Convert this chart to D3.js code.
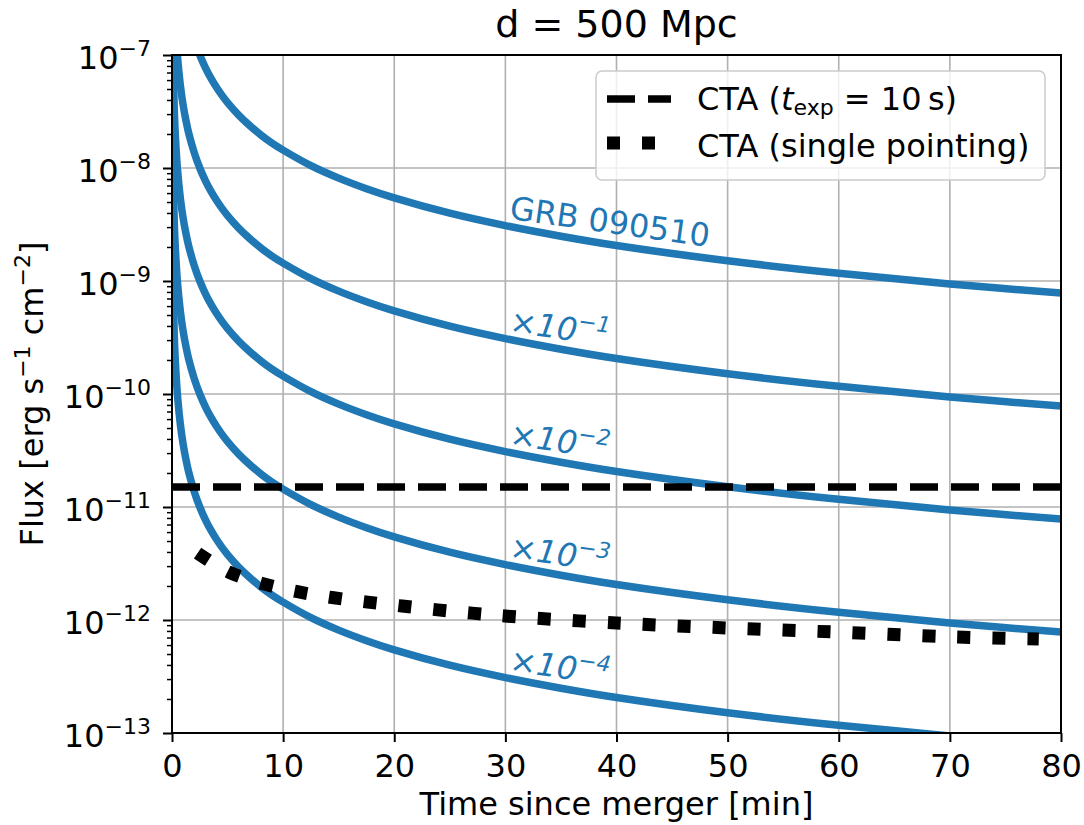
<!DOCTYPE html>
<html>
<head>
<meta charset="utf-8">
<script src="https://cdn.jsdelivr.net/npm/d3@7"></script>
<style>
	body { margin: 0; background: #ffffff; }
	text { font-family: "DejaVu Sans", sans-serif; fill: #000000; }
</style>
</head>
<body>
<div id="chart"></div>
<script>
//Data

// GRB 090510 light curve (time in minutes, flux in erg s^-1 cm^-2)
const grbTimes = [0.005, 0.01, 0.02, 0.05, 0.1, 0.2, 0.3, 0.5, 0.75, 1, 1.25, 1.5, 2, 2.5, 3, 3.5, 4, 4.5, 5, 6, 7, 8, 9, 10, 12.5, 15, 17.5, 20, 25, 30, 35, 40, 50, 60, 70, 80]
const grbFlux = [6.00e-4, 2.28e-4, 8.63e-5, 2.39e-5, 9.06e-6, 3.43e-6, 1.95e-6, 9.52e-7, 5.40e-7, 3.61e-7, 2.64e-7, 2.04e-7, 1.37e-7, 1.00e-7, 7.75e-8, 6.24e-8, 5.18e-8, 4.39e-8, 3.79e-8, 2.94e-8, 2.37e-8, 1.96e-8, 1.66e-8, 1.44e-8, 1.05e-8, 8.14e-9, 6.56e-9, 5.44e-9, 3.98e-9, 3.09e-9, 2.49e-9, 2.06e-9, 1.51e-9, 1.17e-9, 9.42e-10, 7.81e-10]

// scaled copies of the light curve
const scaleFactors = [1, 1e-1, 1e-2, 1e-3, 1e-4]
const curveLabels = ["GRB 090510", "×10", "×10", "×10", "×10"]
const curveExponents = ["", "−1", "−2", "−3", "−4"]
const labelTime = 30.3
const labelFlux = 3.55e-9

// CTA sensitivities
const ctaTimes = [0, 80]
const ctaFlux = [1.5e-11, 1.5e-11]
const pointingTimes = [2.3, 5.1, 8.2, 11.3, 14.4, 17.6, 20.7, 23.9, 27, 30.2, 40, 50, 60, 70, 78]
const pointingFlux = [3.9e-12, 2.66e-12, 2.09e-12, 1.78e-12, 1.58e-12, 1.44e-12, 1.33e-12, 1.23e-12, 1.15e-12, 1.08e-12, 9.4e-13, 8.5e-13, 7.8e-13, 7.1e-13, 6.8e-13]

// Axis ticks
const xTicks = [0, 10, 20, 30, 40, 50, 60, 70, 80]
const yExponents = [-13, -12, -11, -10, -9, -8, -7]

const blue = "#1f77b4"

let store = {}

function makeConfig(store) {
	store.dimensions = {
		width: 1084,
		height: 825,
		margin: {
			top: 55,
			bottom: 92,
			left: 172,
			right: 23
		}
	}
	return store
}

function makePlot(store) {
	const dims = store.dimensions
	const svg = d3.select("#chart")
		.append("svg")
		.attr("width", dims.width)
		.attr("height", dims.height)

	const container = svg.append("g")
		.attr("transform", `translate(${dims.margin.left},${dims.margin.top})`)
	const containerWidth = dims.width - dims.margin.left - dims.margin.right
	const containerHeight = dims.height - dims.margin.top - dims.margin.bottom

	// Scales
	const xScale = d3.scaleLinear()
		.domain([0, 80])
		.range([0, containerWidth])
	const yScale = d3.scaleLog()
		.domain([1e-13, 1e-7])
		.range([containerHeight, 0])

	// Clip
	svg.append("defs").append("clipPath")
		.attr("id", "plotclip")
		.append("rect")
		.attr("width", containerWidth)
		.attr("height", containerHeight)

	// Grid
	const grid = container.append("g")
	grid.selectAll(".gx")
		.data(xTicks)
		.join("line")
		.attr("x1", (d) => xScale(d))
		.attr("x2", (d) => xScale(d))
		.attr("y1", 0)
		.attr("y2", containerHeight)
		.attr("stroke", "#b0b0b0")
		.attr("stroke-width", 1.6)
	grid.selectAll(".gy")
		.data(yExponents)
		.join("line")
		.attr("x1", 0)
		.attr("x2", containerWidth)
		.attr("y1", (d) => yScale(Math.pow(10, d)))
		.attr("y2", (d) => yScale(Math.pow(10, d)))
		.attr("stroke", "#b0b0b0")
		.attr("stroke-width", 1.6)

	const plot = container.append("g").attr("clip-path", "url(#plotclip)")

	// Light curves
	const line = d3.line()
		.x((d) => xScale(d[0]))
		.y((d) => yScale(d[1]))
		.curve(d3.curveCatmullRom.alpha(0.5))

	scaleFactors.forEach((f) => {
		const pts = grbTimes.map((t, i) => [t, grbFlux[i] * f])
		plot.append("path")
			.datum(pts)
			.attr("d", line)
			.attr("fill", "none")
			.attr("stroke", blue)
			.attr("stroke-width", 7.5)
	})

	// CTA 10 s
	plot.append("path")
		.datum(ctaTimes.map((t, i) => [t, ctaFlux[i]]))
		.attr("d", line)
		.attr("fill", "none")
		.attr("stroke", "black")
		.attr("stroke-width", 7.5)
		.attr("stroke-dasharray", "28 13")

	// CTA single pointing
	plot.append("path")
		.datum(pointingTimes.map((t, i) => [t, pointingFlux[i]]))
		.attr("d", line)
		.attr("fill", "none")
		.attr("stroke", "black")
		.attr("stroke-width", 13)
		.attr("stroke-dasharray", "13 22")

	// Curve labels
	scaleFactors.forEach((f, i) => {
		const lx = xScale(labelTime)
		const ly = yScale(labelFlux * f)
		const label = container.append("text")
			.attr("transform", `translate(${lx},${ly}) rotate(8)`)
			.attr("font-size", "32px")
			.style("fill", blue)
		if (i === 0) {
			label.text(curveLabels[i])
		} else {
			label.attr("font-style", "italic")
			label.append("tspan").text(curveLabels[i])
			label.append("tspan")
				.attr("dy", -13)
				.attr("font-size", "22px")
				.text(curveExponents[i])
		}
	})

	// X Axis
	const xAxis = d3.axisBottom(xScale)
		.tickValues(xTicks)
		.tickSize(9)
		.tickPadding(12)
	const xAxisGroup = container.append("g")
		.attr("transform", `translate(0, ${containerHeight})`)
		.call(xAxis)
	xAxisGroup.select(".domain").remove()
	xAxisGroup.selectAll("line").attr("stroke-width", 2)
	xAxisGroup.selectAll("text")
		.attr("font-size", "32px")
		.attr("font-family", "DejaVu Sans")

	// Y Axis, minor ticks
	const minor = []
	yExponents.slice(0, -1).forEach((e) => {
		for (let m = 2; m < 10; m++) minor.push(m * Math.pow(10, e))
	})
	const yMinor = container.append("g")
		.call(d3.axisLeft(yScale).tickValues(minor).tickSize(5).tickFormat(""))
	yMinor.select(".domain").remove()
	yMinor.selectAll("line").attr("stroke-width", 1.5)

	// Y Axis, major ticks
	const yAxisGroup = container.append("g")
		.call(d3.axisLeft(yScale)
			.tickValues(yExponents.map((e) => Math.pow(10, e)))
			.tickSize(9)
			.tickPadding(12)
			.tickFormat(""))
	yAxisGroup.select(".domain").remove()
	yAxisGroup.selectAll("line").attr("stroke-width", 2)
	yAxisGroup.selectAll(".tick text")
		.attr("font-size", "32px")
		.attr("font-family", "DejaVu Sans")
		.attr("dy", "0.41em")
		.each(function (d) {
			const t = d3.select(this)
			const e = Math.round(Math.log10(d))
			t.append("tspan").text("10")
			t.append("tspan")
				.attr("dy", -13)
				.attr("font-size", "22px")
				.text("−" + Math.abs(e))
		})

	// Spines
	container.append("rect")
		.attr("width", containerWidth)
		.attr("height", containerHeight)
		.attr("fill", "none")
		.attr("stroke", "black")
		.attr("stroke-width", 2)

	// X label
	container.append("text")
		.attr("x", containerWidth / 2)
		.attr("y", containerHeight + 82)
		.attr("font-size", "32px")
		.attr("text-anchor", "middle")
		.text("Time since merger [min]")

	// Y label
	const ylab = container.append("text")
		.attr("transform", `translate(${-129},${containerHeight / 2}) rotate(-90)`)
		.attr("font-size", "32px")
		.attr("text-anchor", "middle")
	ylab.append("tspan").text("Flux [erg s")
	ylab.append("tspan").attr("dy", -13).attr("font-size", "22px").text("−1")
	ylab.append("tspan").attr("dy", 13).text(" cm")
	ylab.append("tspan").attr("dy", -13).attr("font-size", "22px").text("−2")
	ylab.append("tspan").attr("dy", 13).text("]")

	// Title
	container.append("text")
		.attr("x", containerWidth / 2)
		.attr("y", -18)
		.attr("font-size", "38px")
		.attr("text-anchor", "middle")
		.text("d = 500 Mpc")

	// Legend
	const legend = container.append("g")
		.attr("transform", `translate(${596 - dims.margin.left},${71 - dims.margin.top})`)
	legend.append("rect")
		.attr("width", 449)
		.attr("height", 109)
		.attr("rx", 6)
		.attr("fill", "white")
		.attr("fill-opacity", 0.8)
		.attr("stroke", "#cccccc")
		.attr("stroke-width", 1.5)
	legend.append("line")
		.attr("x1", 11).attr("x2", 75)
		.attr("y1", 28).attr("y2", 28)
		.attr("stroke", "black")
		.attr("stroke-width", 7.5)
		.attr("stroke-dasharray", "28 13")
	legend.append("line")
		.attr("x1", 11).attr("x2", 75)
		.attr("y1", 72).attr("y2", 72)
		.attr("stroke", "black")
		.attr("stroke-width", 13)
		.attr("stroke-dasharray", "13 22")
	const l1 = legend.append("text")
		.attr("x", 101)
		.attr("y", 39)
		.attr("font-size", "32px")
	l1.append("tspan").text("CTA (")
	l1.append("tspan").attr("font-style", "italic").text("t")
	l1.append("tspan").attr("dy", 5).attr("font-size", "22px").text("exp")
	l1.append("tspan").attr("dy", -5).text(" = 10\u2009s)")
	legend.append("text")
		.attr("x", 101)
		.attr("y", 86)
		.attr("font-size", "32px")
		.text("CTA (single pointing)")
}

store = makeConfig(store)
makePlot(store)
</script>
</body>
</html>
